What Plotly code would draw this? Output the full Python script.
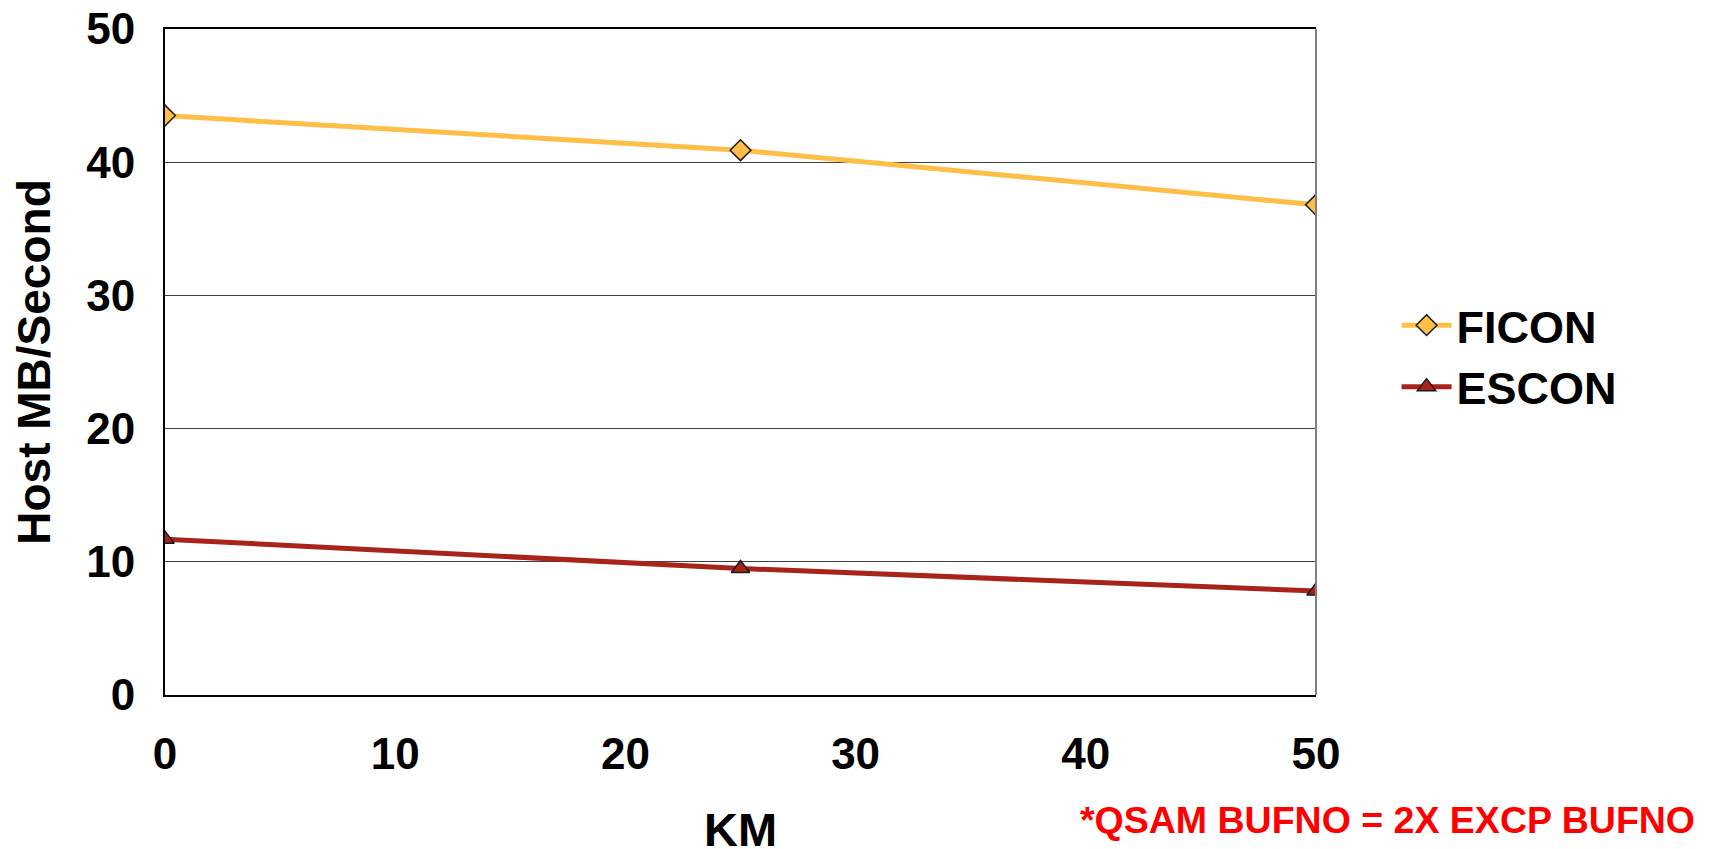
import plotly.graph_objects as go

km = [0, 25, 50]
ficon = [43.5, 40.9, 36.8]
escon = [11.7, 9.5, 7.8]
x_ticks = [0, 10, 20, 30, 40, 50]
y_ticks = [0, 10, 20, 30, 40, 50]

FONT = "Liberation Sans, Arial, sans-serif"

fig = go.Figure()
fig.add_trace(go.Scatter(
    x=km, y=ficon, name="FICON", mode="lines+markers",
    line=dict(color="#FFBE46", width=5),
    marker=dict(symbol="diamond", size=16, color="#FFBE46",
                line=dict(color="#1a1a1a", width=1.5)),
))
fig.add_trace(go.Scatter(
    x=km, y=escon, name="ESCON", mode="lines+markers",
    line=dict(color="#A8231A", width=5),
    marker=dict(symbol="triangle-up", size=16, color="#A8231A",
                line=dict(color="#1a1a1a", width=1.5)),
))

fig.update_layout(
    width=1710, height=841,
    margin=dict(l=157, r=402, t=21, b=154, autoexpand=False),
    paper_bgcolor="white", plot_bgcolor="white",
    font=dict(family=FONT, size=45, color="black"),
    legend=dict(x=1.07, y=0.609, xanchor="left", yanchor="top",
                font=dict(family=FONT, size=45, color="black", weight="bold"),
                itemwidth=50, bgcolor="rgba(0,0,0,0)"),
    showlegend=True,
)
fig.update_xaxes(
    range=[0, 50], tickvals=x_ticks, showgrid=False, zeroline=False,
    showline=True, linecolor="black", linewidth=2, mirror=True, automargin=False,
    tickfont=dict(family=FONT, size=44, weight="bold"), ticklabeloverflow="allow",
    ticks="", ticklabelstandoff=19,
)
fig.update_yaxes(
    range=[0, 50], tickvals=y_ticks, showgrid=True, gridcolor="#404040", gridwidth=1,
    zeroline=False, showline=True, linecolor="black", linewidth=2, automargin=False,
    tickfont=dict(family=FONT, size=44, weight="bold"), ticklabeloverflow="allow",
    ticks="", ticklabelstandoff=19,
    title=dict(text="<b>Host MB/Second</b>", font=dict(family=FONT, size=46), standoff=28),
)
fig.add_shape(type="line", xref="paper", yref="paper", x0=1, x1=1, y0=0, y1=1,
              line=dict(color="#808080", width=2))
# x-axis title
fig.add_annotation(
    text="<b>KM</b>", xref="paper", yref="paper",
    x=0.5, y=(695 - 830) / 666.5, xanchor="center", yanchor="middle",
    showarrow=False, font=dict(family=FONT, size=47, color="black"),
)
fig.add_annotation(
    text="<b>*QSAM BUFNO = 2X EXCP BUFNO</b>", xref="paper", yref="paper",
    x=(1697 - 165) / 1151, y=(695 - 820) / 666.5, xanchor="right", yanchor="middle",
    showarrow=False,
    font=dict(family=FONT, size=37.5, color="#FF0000"),
)
fig.write_html("out.html")
